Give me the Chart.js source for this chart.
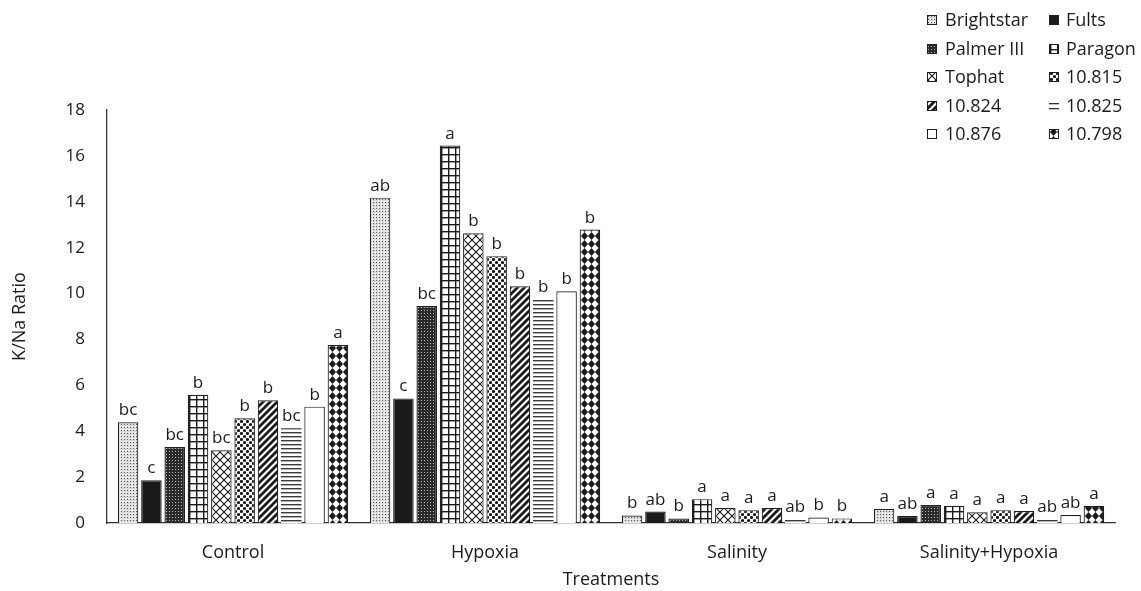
<!DOCTYPE html>
<html>
<head>
<meta charset="utf-8">
<script src="https://cdn.jsdelivr.net/npm/chart.js@4.4.0/dist/chart.umd.min.js"></script>
<style>
  html, body { margin: 0; padding: 0; background: #fff; }
  #wrap { width: 1141px; height: 591px; }
</style>
</head>
<body>
<div id="wrap"><canvas id="c" width="1141" height="591"></canvas></div>
<script>
// Treatments on the x axis
const treatments = ['Control', 'Hypoxia', 'Salinity', 'Salinity+Hypoxia'];

// Cultivars (one series each)
const cultivars = ['Brightstar', 'Fults', 'Palmer III', 'Paragon', 'Tophat',
                   '10.815', '10.824', '10.825', '10.876', '10.798'];

// K/Na ratio per cultivar, ordered as the treatments above
const brightstar = [4.39, 14.18, 0.33, 0.61];
const fults      = [1.86, 5.43, 0.50, 0.30];
const palmerIII  = [3.31, 9.46, 0.20, 0.78];
const paragon    = [5.59, 16.45, 1.04, 0.75];
const tophat     = [3.17, 12.63, 0.65, 0.47];
const l10815     = [4.56, 11.63, 0.56, 0.56];
const l10824     = [5.35, 10.32, 0.65, 0.52];
const l10825     = [4.13, 9.76, 0.18, 0.18];
const l10876     = [5.07, 10.10, 0.24, 0.35];
const l10798     = [7.76, 12.79, 0.20, 0.75];

// Mean separation letters, same order
const lettersBrightstar = ['bc', 'ab', 'b', 'a'];
const lettersFults      = ['c', 'c', 'ab', 'ab'];
const lettersPalmerIII  = ['bc', 'bc', 'b', 'a'];
const lettersParagon    = ['b', 'a', 'a', 'a'];
const lettersTophat     = ['bc', 'b', 'a', 'a'];
const letters10815      = ['b', 'b', 'a', 'a'];
const letters10824      = ['b', 'b', 'a', 'a'];
const letters10825      = ['bc', 'b', 'ab', 'ab'];
const letters10876      = ['b', 'b', 'b', 'ab'];
const letters10798      = ['a', 'b', 'b', 'a'];

// Y axis ticks
const yMin = 0, yMax = 18, yStep = 2;

const values = [brightstar, fults, palmerIII, paragon, tophat, l10815, l10824, l10825, l10876, l10798];
const letters = [lettersBrightstar, lettersFults, lettersPalmerIII, lettersParagon, lettersTophat,
                 letters10815, letters10824, letters10825, letters10876, letters10798];

const INK = '#1a1a1a';
const EDGE = '#1f1f1f';
const FONT = '"Open Sans", "DejaVu Sans", sans-serif';

// ---- fill patterns ----
function tile(w, h, draw) {
  const cv = document.createElement('canvas');
  cv.width = w; cv.height = h;
  const g = cv.getContext('2d');
  g.fillStyle = '#fff';
  g.fillRect(0, 0, w, h);
  draw(g, w, h);
  return cv;
}
const ctx = document.getElementById('c').getContext('2d');
function pat(cv) { return ctx.createPattern(cv, 'repeat'); }

const tiles = [
  // Brightstar: light fine stipple
  tile(3, 3, (g) => { g.fillStyle = '#dcdcdc'; g.fillRect(0,0,3,3); g.fillStyle = '#5a5a5a'; g.fillRect(1,1,1,1); g.fillStyle='#fff'; g.fillRect(0,0,1,1); }),
  // Fults: solid
  tile(2, 2, (g) => { g.fillStyle = INK; g.fillRect(0,0,2,2); }),
  // Palmer III: dark stipple
  tile(3, 3, (g) => { g.fillStyle = '#2a2a2a'; g.fillRect(0,0,3,3); g.fillStyle = '#b8b8b8'; g.fillRect(1,1,1,1); }),
  // Paragon: grid
  tile(7, 7, (g) => { g.fillStyle = INK; g.fillRect(0,0,7,1.4); g.fillRect(0,0,1.4,7); }),
  // Tophat: diagonal cross-hatch
  tile(8, 8, (g) => { g.strokeStyle = INK; g.lineWidth = 1.1; g.beginPath(); g.moveTo(0,0); g.lineTo(8,8); g.moveTo(8,0); g.lineTo(0,8); g.stroke(); }),
  // 10.815: large dots
  tile(6, 6, (g) => { g.fillStyle = INK; g.beginPath(); g.arc(1.5,1.5,1.6,0,Math.PI*2); g.arc(4.5,4.5,1.6,0,Math.PI*2); g.fill(); }),
  // 10.824: wide diagonal stripes
  tile(7, 7, (g) => { g.strokeStyle = INK; g.lineWidth = 2.8; g.beginPath(); g.moveTo(-1,8); g.lineTo(8,-1); g.moveTo(-1,1); g.lineTo(1,-1); g.moveTo(6,8); g.lineTo(8,6); g.stroke(); }),
  // 10.825: horizontal lines
  tile(4, 4, (g) => { g.fillStyle = '#3a3a3a'; g.fillRect(0,0,4,1.4); }),
  // 10.876: plain white
  tile(2, 2, () => {}),
  // 10.798: diamonds
  tile(7, 8, (g) => { g.fillStyle = INK; g.beginPath(); g.moveTo(3.5,0); g.lineTo(7,4); g.lineTo(3.5,8); g.lineTo(0,4); g.closePath(); g.fill(); })
];
const fills = tiles.map(pat);

const datasets = cultivars.map((name, i) => ({
  label: name,
  data: values[i],
  backgroundColor: fills[i],
  borderColor: i === 7 ? 'rgba(0,0,0,0)' : EDGE,
  borderWidth: i === 7 ? 0 : 1.2,
  barPercentage: 0.88,
  categoryPercentage: 0.925
}));

// Letters above each bar
const letterPlugin = {
  id: 'letters',
  afterDatasetsDraw(chart) {
    const c = chart.ctx;
    c.save();
    c.font = '17px ' + FONT;
    c.fillStyle = INK;
    c.textAlign = 'center';
    c.textBaseline = 'alphabetic';
    chart.data.datasets.forEach((ds, i) => {
      const meta = chart.getDatasetMeta(i);
      meta.data.forEach((el, j) => {
        c.fillText(letters[i][j], el.x, el.y - 7);
      });
    });
    c.restore();
  }
};

// Two-column legend in the top right corner
const legendPlugin = {
  id: 'gridLegend',
  afterDraw(chart) {
    const c = chart.ctx;
    const colBox = [927, 1049];
    const colText = [945, 1066];
    const rowY = [20, 49, 77, 106, 134];
    c.save();
    c.font = '18px ' + FONT;
    c.fillStyle = INK;
    c.textBaseline = 'middle';
    c.textAlign = 'left';
    chart.data.datasets.forEach((ds, i) => {
      const col = i % 2, row = Math.floor(i / 2);
      const bx = colBox[col], by = rowY[row] - 5;
      if (i === 7) {
        c.fillStyle = '#333';
        c.fillRect(bx, by + 2, 10, 1.3);
        c.fillRect(bx, by + 7, 10, 1.3);
      } else {
        c.fillStyle = ds.backgroundColor;
        c.fillRect(bx, by, 10, 10);
        c.strokeStyle = EDGE;
        c.lineWidth = 1;
        c.strokeRect(bx + 0.5, by + 0.5, 9, 9);
      }
      c.fillStyle = INK;
      c.fillText(ds.label, colText[col], rowY[row] + 1);
    });
    c.restore();
  }
};

new Chart(ctx, {
  type: 'bar',
  data: { labels: treatments, datasets },
  plugins: [letterPlugin, legendPlugin],
  options: {
    responsive: false,
    animation: false,
    devicePixelRatio: 1,
    layout: { padding: { left: 0, right: 26, top: 110, bottom: 0 } },
    plugins: {
      legend: { display: false },
      tooltip: { enabled: false }
    },
    scales: {
      x: {
        grid: { display: false, drawTicks: false },
        border: { display: true, color: '#333', width: 1.3 },
        ticks: { color: INK, font: { family: FONT, size: 18 }, padding: 19 },
        title: { display: true, text: 'Treatments', color: INK, font: { family: FONT, size: 18 }, padding: { top: 0, bottom: 0 } },
        afterFit(scale) { scale.height = 68; }
      },
      y: {
        min: yMin, max: yMax,
        grid: { display: false, drawTicks: false },
        border: { display: true, color: '#333', width: 1.3 },
        ticks: { stepSize: yStep, color: INK, font: { family: FONT, size: 17 }, padding: 22 },
        title: { display: true, text: 'K/Na Ratio', color: INK, font: { family: FONT, size: 18 }, padding: { top: 9, bottom: 0 } },
        afterFit(scale) { scale.width = 107; }
      }
    }
  }
});
</script>
</body>
</html>
